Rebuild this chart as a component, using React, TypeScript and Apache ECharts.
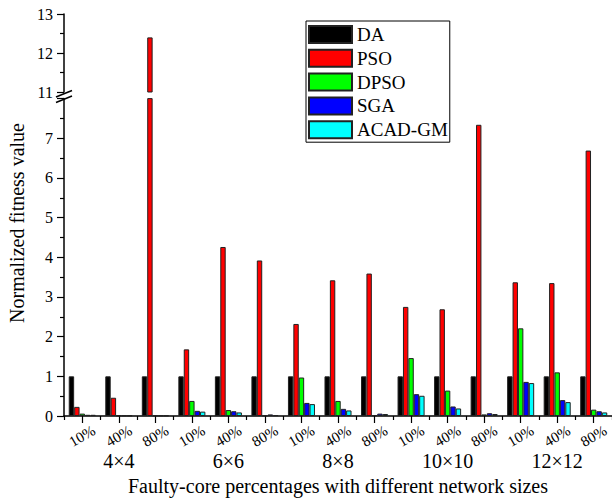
import React, { useEffect, useRef } from 'react';
import * as echarts from 'echarts';

// Faulty-core percentage per bar group, repeated for every network size
const CATEGORIES = [
  '10%', '40%', '80%',
  '10%', '40%', '80%',
  '10%', '40%', '80%',
  '10%', '40%', '80%',
  '10%', '40%', '80%',
];
const NETWORK_SIZES = ['4×4', '6×6', '8×8', '10×10', '12×12'];

// Normalized fitness values (DA is the reference = 1)
const DA = [1, 1, 1, 1, 1, 1, 1, 1, 1, 1, 1, 1, 1, 1, 1];
const PSO = [0.23, 0.46, 12.4, 1.68, 4.26, 3.92, 2.32, 3.42, 3.59, 2.75, 2.69, 7.34, 3.37, 3.35, 6.69];
const DPSO = [0.06, 0.01, 0.01, 0.38, 0.15, 0.01, 0.97, 0.38, 0.02, 1.46, 0.64, 0.04, 2.21, 1.1, 0.16];
const SGA = [0.03, 0.01, 0.01, 0.13, 0.12, 0.04, 0.33, 0.18, 0.06, 0.55, 0.24, 0.07, 0.86, 0.4, 0.12];
const ACAD_GM = [0.03, 0.01, 0.01, 0.11, 0.09, 0.02, 0.3, 0.14, 0.05, 0.51, 0.19, 0.05, 0.83, 0.35, 0.09];

const SERIES_NAMES = ['DA', 'PSO', 'DPSO', 'SGA', 'ACAD-GM'];
const SERIES_DATA = [DA, PSO, DPSO, SGA, ACAD_GM];
const SERIES_COLORS = ['#000000', '#ff0000', '#00ff00', '#0000ff', '#00ffff'];

// Broken value axis: lower segment 0..8, upper segment 11..13
const LOWER_MIN = 0;
const LOWER_MAX = 8;
const UPPER_MIN = 11;
const UPPER_MAX = 13;

const FONT = '"Times New Roman", "Liberation Serif", serif';

export default function App() {
  const ref = useRef<HTMLDivElement>(null);

  useEffect(() => {
    if (!ref.current) return;
    const chart = echarts.init(ref.current, undefined, { renderer: 'svg' });

    const axisLine = { show: true, lineStyle: { color: '#000', width: 1.5 } };

    const barStyle = (i: number) => ({
      color: SERIES_COLORS[i],
      borderColor: '#222',
      borderWidth: 1,
    });

    const lowerSeries = SERIES_NAMES.map((name, i) => ({
      name,
      type: 'bar',
      xAxisIndex: 1,
      yAxisIndex: 1,
      data: SERIES_DATA[i],
      barGap: '0%',
      barCategoryGap: '26%',
      clip: true,
      itemStyle: barStyle(i),
    }));

    const upperSeries = SERIES_NAMES.map((name, i) => ({
      name,
      type: 'bar',
      xAxisIndex: 0,
      yAxisIndex: 0,
      data: SERIES_DATA[i].map((v) => (v > UPPER_MIN ? v : null)),
      barGap: '0%',
      barCategoryGap: '26%',
      clip: true,
      itemStyle: barStyle(i),
    }));

    chart.setOption({
      animation: false,
      textStyle: { fontFamily: FONT, color: '#000' },
      grid: [
        { left: 64, right: 0, top: 14, height: 78 },
        { left: 64, right: 0, top: 98.6, bottom: 80 },
      ],
      legend: {
        data: SERIES_NAMES,
        orient: 'vertical',
        left: 306,
        top: 21,
        icon: 'rect',
        itemWidth: 43,
        itemHeight: 17,
        itemGap: 4.8,
        padding: [4, 2, 3, 2],
        borderColor: '#000',
        borderWidth: 1,
        textStyle: { fontFamily: FONT, fontSize: 19, color: '#000', lineHeight: 17 },
      },
      xAxis: [
        {
          type: 'category',
          gridIndex: 0,
          data: CATEGORIES,
          show: false,
        },
        {
          type: 'category',
          gridIndex: 1,
          position: 'bottom',
          data: CATEGORIES,
          axisLine,
          axisTick: { show: true, length: 4, lineStyle: { color: '#000', width: 1.2 } },
          axisLabel: {
            rotate: 30,
            interval: 0,
            margin: 20,
            align: 'center',
            verticalAlign: 'middle',
            fontFamily: FONT,
            fontSize: 15,
            color: '#000',
          },
          name: 'Faulty-core percentages with different network sizes',
          nameLocation: 'middle',
          nameGap: 60,
          nameTextStyle: { fontFamily: FONT, fontSize: 20, color: '#000' },
        },
        {
          type: 'category',
          gridIndex: 1,
          position: 'bottom',
          data: CATEGORIES,
          axisLine: { show: false },
          axisTick: { show: true, alignWithLabel: true, length: 7, lineStyle: { color: '#000', width: 1.2 } },
          axisLabel: { show: false },
        },
        {
          type: 'category',
          gridIndex: 1,
          position: 'bottom',
          data: NETWORK_SIZES,
          axisLine: { show: false },
          axisTick: { show: false },
          axisLabel: {
            margin: 35,
            interval: 0,
            fontFamily: FONT,
            fontSize: 20,
            color: '#000',
          },
        },
      ],
      yAxis: [
        {
          type: 'value',
          gridIndex: 0,
          min: UPPER_MIN,
          max: UPPER_MAX,
          interval: 1,
          axisLine,
          axisTick: { show: true, length: 7, lineStyle: { color: '#000', width: 1.2 } },
          minorTick: { show: true, splitNumber: 2, length: 4, lineStyle: { color: '#000', width: 1.2 } },
          splitLine: { show: false },
          axisLabel: { margin: 11, fontFamily: FONT, fontSize: 16, color: '#000' },
        },
        {
          type: 'value',
          gridIndex: 1,
          min: LOWER_MIN,
          max: LOWER_MAX,
          interval: 1,
          axisLine,
          axisTick: { show: true, length: 7, lineStyle: { color: '#000', width: 1.2 } },
          minorTick: { show: true, splitNumber: 2, length: 4, lineStyle: { color: '#000', width: 1.2 } },
          splitLine: { show: false },
          axisLabel: {
            margin: 11,
            showMaxLabel: false,
            fontFamily: FONT,
            fontSize: 16,
            color: '#000',
            formatter: (v: number) => (v >= LOWER_MAX ? '' : String(v)),
          },
        },
      ],
      graphic: [
        {
          type: 'line',
          shape: { x1: 56, y1: 97, x2: 72, y2: 90.5 },
          style: { stroke: '#000', lineWidth: 1.5 },
          z: 10,
        },
        {
          type: 'line',
          shape: { x1: 56, y1: 102.5, x2: 72, y2: 96 },
          style: { stroke: '#000', lineWidth: 1.5 },
          z: 10,
        },
        {
          type: 'text',
          x: 17,
          y: 223,
          rotation: Math.PI / 2,
          style: {
            text: 'Normalized fitness value',
            fontFamily: FONT,
            fontSize: 20,
            fill: '#000',
            align: 'center',
            verticalAlign: 'middle',
          },
        },
      ],
      series: [...lowerSeries, ...upperSeries],
    });

    return () => chart.dispose();
  }, []);

  return (
    <div
      ref={ref}
      style={{ position: 'fixed', left: 0, top: 0, width: 612, height: 501, background: '#fff' }}
    />
  );
}
